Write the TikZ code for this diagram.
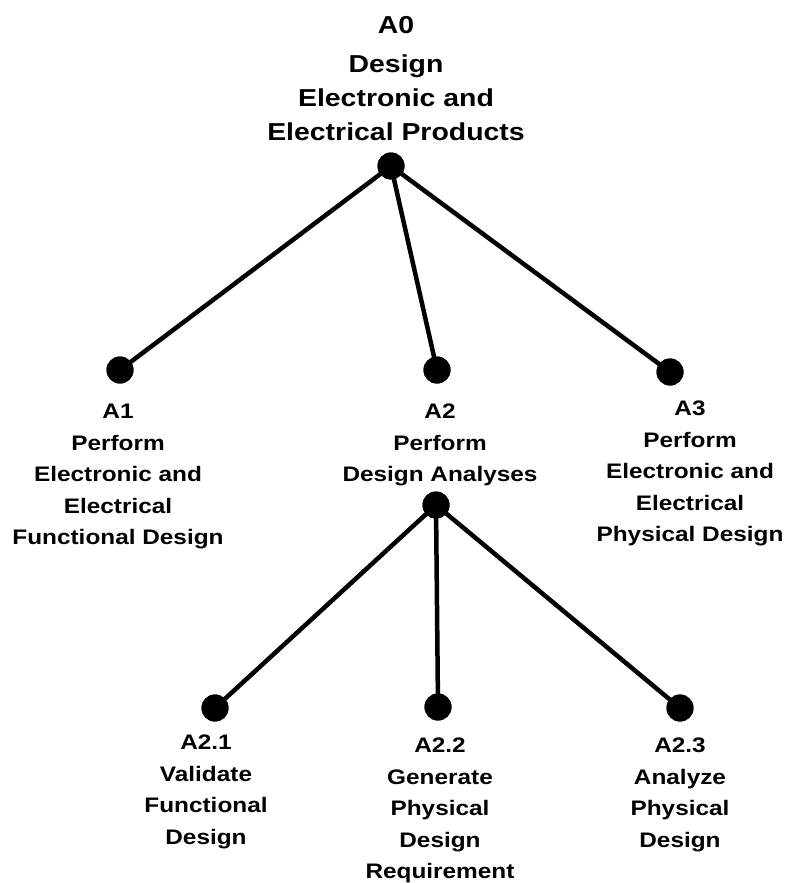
\documentclass[tikz,border=0pt]{standalone}
\usepackage{fontspec}
\setmainfont{Liberation Sans}[FakeStretch=1.16,UprightFont={* Bold}]
\begin{document}
\begin{tikzpicture}[x=1pt,y=-1pt]
\tikzset{
  dot/.style={circle,fill=black,inner sep=0pt,minimum size=27pt},
  link/.style={line width=4.5pt},
  toplabel/.style={align=center,inner sep=0pt,anchor=north,font=\fontsize{24.5}{34}\selectfont},
  lbl/.style={align=center,inner sep=0pt,anchor=north,font=\fontsize{21}{31.5}\selectfont}
}
\useasboundingbox (0,0) rectangle (788,883);

% dots
\node[dot] (a0) at (391,166) {};
\node[dot] (a1) at (120,370) {};
\node[dot] (a2) at (437,370) {};
\node[dot] (a3) at (670,372) {};
\node[dot] (a2b) at (436,505) {};
\node[dot] (a21) at (215,708) {};
\node[dot] (a22) at (438,707) {};
\node[dot] (a23) at (680,708) {};

% connectors
\draw[link] (a0.center) -- (a1.center);
\draw[link] (a0.center) -- (a2.center);
\draw[link] (a0.center) -- (a3.center);
\draw[link] (a2b.center) -- (a21.center);
\draw[link] (a2b.center) -- (a22.center);
\draw[link] (a2b.center) -- (a23.center);
\foreach \n in {a0,a1,a2,a3,a2b,a21,a22,a23} \fill (\n) circle (13.5pt);

% labels
\node[toplabel] (t0) at (396,16) {A0\\[5pt]Design\\Electronic and\\Electrical Products};
\node[lbl] (t1) at (118,404) {A1\\Perform\\Electronic and\\Electrical\\Functional Design};
\node[lbl] (t2) at (440,404) {A2\\Perform\\Design Analyses};
\node[lbl] (t3) at (690,401) {A3\\Perform\\Electronic and\\Electrical\\Physical Design};
\node[lbl] (t21) at (206,735) {A2.1\\Validate\\Functional\\Design};
\node[lbl] (t22) at (440,738) {A2.2\\Generate\\Physical\\Design\\Requirement};
\node[lbl] (t23) at (680,738) {A2.3\\Analyze\\Physical\\Design};
\end{tikzpicture}
\end{document}
